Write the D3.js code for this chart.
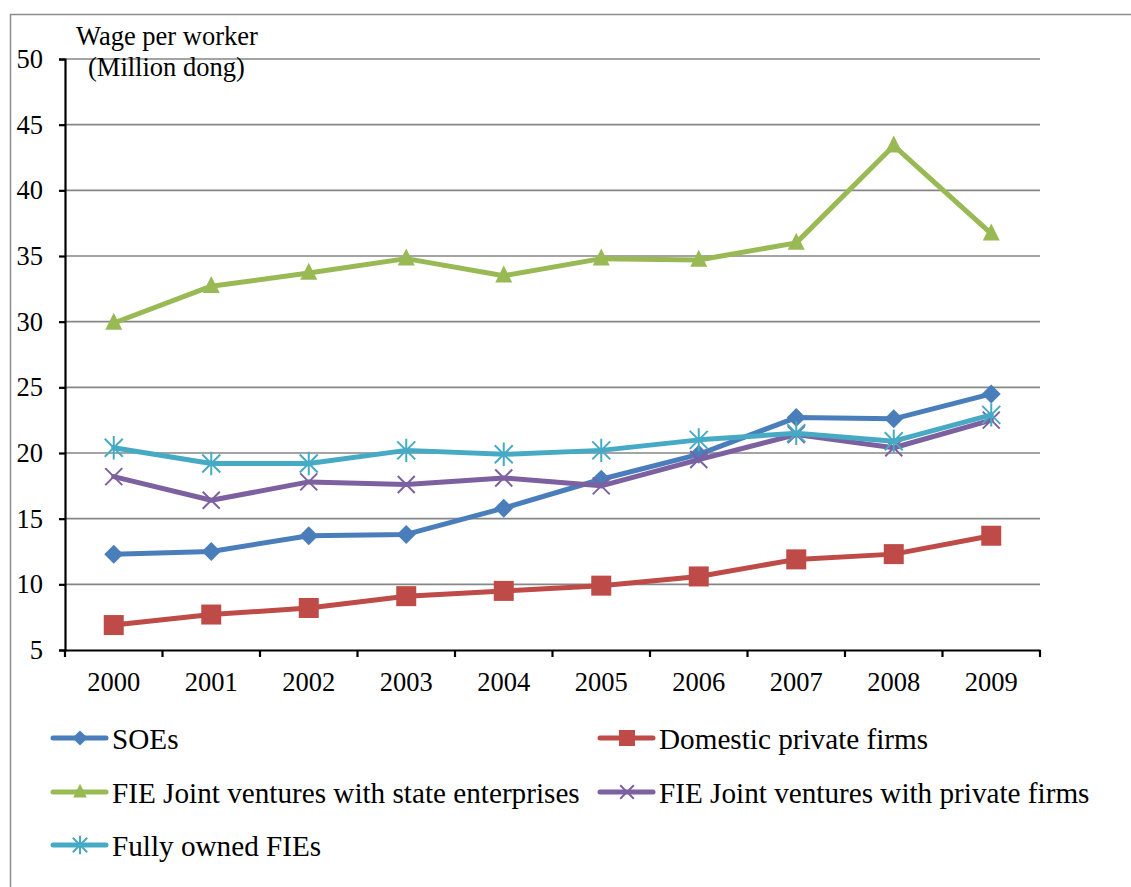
<!DOCTYPE html>
<html>
<head>
<meta charset="utf-8">
<script src="https://cdn.jsdelivr.net/npm/d3@7"></script>
<style>
  html, body { margin: 0; padding: 0; background: #fff; }
  svg { display: block; }
  text { font-family: "Liberation Serif", "Times New Roman", serif; fill: #000; }
</style>
</head>
<body>
<svg id="chart" width="1131" height="887"></svg>
<script>
const years = ["2000","2001","2002","2003","2004","2005","2006","2007","2008","2009"];
const soes      = [12.3, 12.5, 13.7, 13.8, 15.8, 18.0, 19.9, 22.7, 22.6, 24.5];
const domestic  = [6.9, 7.7, 8.2, 9.1, 9.5, 9.9, 10.6, 11.9, 12.3, 13.7];
const jvState   = [29.9, 32.7, 33.7, 34.8, 33.5, 34.8, 34.7, 36.0, 43.4, 36.7];
const jvPrivate = [18.2, 16.4, 17.8, 17.6, 18.1, 17.5, 19.5, 21.4, 20.4, 22.5];
const fullyFIE  = [20.4, 19.2, 19.2, 20.2, 19.9, 20.2, 21.0, 21.5, 20.9, 22.9];
const yTicks = [5, 10, 15, 20, 25, 30, 35, 40, 45, 50];
const seriesNames = ["SOEs", "Domestic private firms", "FIE Joint ventures with state enterprises", "FIE Joint ventures with private firms", "Fully owned FIEs"];

(function () {
const series = [
  { name: seriesNames[0], values: soes,      color: "#4A7EBB", marker: "diamond" },
  { name: seriesNames[1], values: domestic,  color: "#BE4B48", marker: "square" },
  { name: seriesNames[2], values: jvState,   color: "#98B954", marker: "triangle" },
  { name: seriesNames[3], values: jvPrivate, color: "#7D60A0", marker: "x" },
  { name: seriesNames[4], values: fullyFIE,  color: "#46AAC5", marker: "asterisk" }
];

const svg = d3.select("#chart");
const mLeft = 65, mRight = 1040, mTop = 59, mBottom = 650;
const FONT = "Liberation Serif";

// outer frame (top and left visible)
svg.append("line").attr("x1", 10).attr("x2", 1131).attr("y1", 14.5).attr("y2", 14.5)
  .attr("stroke", "#8c8c8c").attr("stroke-width", 1.5);
svg.append("line").attr("x1", 10.5).attr("x2", 10.5).attr("y1", 14).attr("y2", 887)
  .attr("stroke", "#8c8c8c").attr("stroke-width", 1.5);

const x = d3.scaleBand().domain(years).range([mLeft, mRight]).paddingInner(0).paddingOuter(0);
const y = d3.scaleLinear().domain([5, 50]).range([mBottom, mTop]);

// gridlines
svg.append("g").selectAll("line").data(yTicks.filter(d => d !== 5)).join("line")
  .attr("x1", mLeft).attr("x2", mRight)
  .attr("y1", d => y(d)).attr("y2", d => y(d))
  .attr("stroke", "#868686").attr("stroke-width", 1.6);

// y axis
const yAxis = d3.axisLeft(y).tickValues(yTicks).tickSize(6).tickPadding(16).tickFormat(d3.format("d"));
const gy = svg.append("g").attr("transform", `translate(${mLeft},0)`).call(yAxis);
gy.attr("font-family", FONT);
gy.select(".domain").attr("stroke", "#000").attr("stroke-width", 2.2);
gy.selectAll(".tick line").attr("stroke", "#000").attr("stroke-width", 2.2);
gy.selectAll(".tick text").attr("font-size", 26.5).attr("fill", "#000");

// x axis with boundary ticks
const xAxis = d3.axisBottom(x).tickSize(0).tickPadding(22);
const gx = svg.append("g").attr("transform", `translate(0,${mBottom})`).call(xAxis);
gx.attr("font-family", FONT);
gx.select(".domain").attr("stroke", "#000").attr("stroke-width", 2.2);
gx.selectAll(".tick text").attr("font-size", 26.5).attr("fill", "#000");
const boundaries = years.map(d => x(d)).concat([x(years[years.length - 1]) + x.bandwidth()]);
gx.append("g").selectAll("line").data(boundaries).join("line")
  .attr("x1", d => d).attr("x2", d => d).attr("y1", 0).attr("y2", 7)
  .attr("stroke", "#000").attr("stroke-width", 2.2);

// axis title
svg.append("text").attr("x", 76).attr("y", 44.5).attr("font-size", 26.5).text("Wage per worker");
svg.append("text").attr("x", 88).attr("y", 76).attr("font-size", 26.5).text("(Million dong)");

const cx = d => x(d) + x.bandwidth() / 2;

function drawMarker(g, type, color, px, py, scale) {
  const s = scale || 1;
  if (type === "diamond") {
    const r = 9.5 * s;
    g.append("path").attr("d", `M${px},${py - r}L${px + r},${py}L${px},${py + r}L${px - r},${py}Z`).attr("fill", color);
  } else if (type === "square") {
    const r = 10 * s;
    g.append("rect").attr("x", px - r).attr("y", py - r).attr("width", 2 * r).attr("height", 2 * r).attr("fill", color);
  } else if (type === "triangle") {
    const r = 8.5 * s;
    g.append("path").attr("d", `M${px},${py - r * 1.2}L${px + r},${py + r * 0.8}L${px - r},${py + r * 0.8}Z`).attr("fill", color);
  } else if (type === "x") {
    const r = 8.5 * s;
    g.append("path").attr("d", `M${px - r},${py - r}L${px + r},${py + r}M${px + r},${py - r}L${px - r},${py + r}`)
      .attr("stroke", color).attr("stroke-width", 2);
  } else if (type === "asterisk") {
    const r = 9 * s;
    g.append("path").attr("d", `M${px - r},${py - r}L${px + r},${py + r}M${px + r},${py - r}L${px - r},${py + r}M${px},${py - r * 1.3}L${px},${py + r * 1.3}`)
      .attr("stroke", color).attr("stroke-width", 2);
  }
}

const line = d3.line().x((d, i) => cx(years[i])).y(d => y(d));

const plot = svg.append("g");
series.forEach(s => {
  const g = plot.append("g");
  g.append("path").datum(s.values).attr("d", line)
    .attr("fill", "none").attr("stroke", s.color).attr("stroke-width", 5)
    .attr("stroke-linejoin", "round").attr("stroke-linecap", "round");
  s.values.forEach((v, i) => drawMarker(g, s.marker, s.color, cx(years[i]), y(v)));
});

// legend
const legendPos = [
  { lx: 53, ly: 738 }, { lx: 600, ly: 738 },
  { lx: 53, ly: 792 }, { lx: 600, ly: 792 },
  { lx: 53, ly: 845 }
];
series.forEach((s, i) => {
  const p = legendPos[i];
  const g = svg.append("g");
  g.append("line").attr("x1", p.lx).attr("x2", p.lx + 53).attr("y1", p.ly).attr("y2", p.ly)
    .attr("stroke", s.color).attr("stroke-width", 5).attr("stroke-linecap", "round");
  drawMarker(g, s.marker, s.color, p.lx + 27, p.ly, 0.8);
  g.append("text").attr("x", p.lx + 59).attr("y", p.ly + 10.5).attr("font-size", 29.2).text(s.name);
});
})();
</script>
</body>
</html>
